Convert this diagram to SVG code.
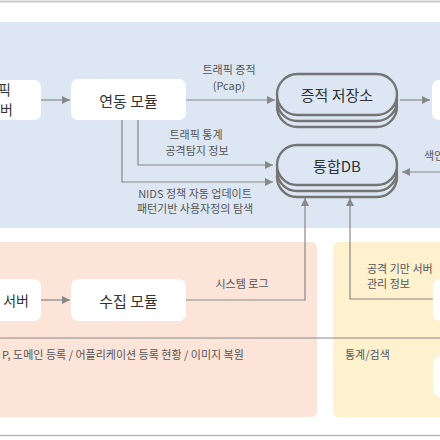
<svg xmlns="http://www.w3.org/2000/svg" width="440" height="440" viewBox="0 0 440 440">
<style>
.node{fill:#fff}
.ntxt{font-family:"Noto Sans CJK KR","Noto Sans",sans-serif;font-size:15px;fill:#333;text-anchor:middle;dominant-baseline:central}
.lbl{font-family:"Noto Sans CJK KR","Noto Sans",sans-serif;font-size:11px;fill:#555;text-anchor:middle;dominant-baseline:central}
.conn{fill:none;stroke:#888;stroke-width:1.2}
.db{fill:#dde7f3;stroke:#747474;stroke-width:2.4}
</style>
<defs>
<marker id="ah" viewBox="0 0 10 10" refX="10" refY="5" markerWidth="8" markerHeight="8" markerUnits="userSpaceOnUse" orient="auto">
<path d="M0,0 L10,5 L0,10 z" fill="#888"/>
</marker>
</defs>
<rect x="0" y="0" width="440" height="440" fill="#fff"/>
<line x1="0" y1="1.5" x2="440" y2="1.5" stroke="#ccc" stroke-width="2"/>
<line x1="0" y1="435.5" x2="440" y2="435.5" stroke="#bbb" stroke-width="1.5"/>
<g id="panels">
<rect x="-10" y="22" width="460" height="206" fill="#dde7f3"/>
<rect x="-10" y="242" width="327" height="175" rx="6" fill="#fce4d8"/>
<rect x="333" y="242" width="120" height="175" rx="6" fill="#fef1cd"/>
<line x1="0" y1="338" x2="440" y2="338" stroke="#888" stroke-width="1"/>
</g>
<g id="connectors">
<line class="conn" x1="41" y1="100" x2="70" y2="100" marker-end="url(#ah)"/>
<line class="conn" x1="186" y1="100" x2="275" y2="100" marker-end="url(#ah)"/>
<line class="conn" x1="400" y1="100" x2="430" y2="100" marker-end="url(#ah)"/>
<polyline class="conn" points="138,120 138,165 273,165" marker-end="url(#ah)"/>
<polyline class="conn" points="122,120 122,182 273,182" marker-end="url(#ah)"/>
<line class="conn" x1="440" y1="172" x2="402" y2="172" marker-end="url(#ah)"/>
<line class="conn" x1="41" y1="300" x2="70" y2="300" marker-end="url(#ah)"/>
<polyline class="conn" points="186,300 305,300 305,198" marker-end="url(#ah)"/>
<polyline class="conn" points="433,299 350,299 350,198" marker-end="url(#ah)"/>
</g>
<g id="labels">
<text class="lbl" x="229" y="69">트래픽 증적</text>
<text class="lbl" x="229" y="85">(Pcap)</text>
<text class="lbl" x="196" y="134">트래픽 통계</text>
<text class="lbl" x="197" y="150">공격탐지 정보</text>
<text class="lbl" x="195" y="193">NIDS 정책 자동 업데이트</text>
<text class="lbl" x="195" y="208">패턴기반 사용자정의 탐색</text>
<text class="lbl" x="424" y="155" style="text-anchor:start">색인</text>
<text class="lbl" x="242" y="283">시스템 로그</text>
<text class="lbl" x="367" y="268" style="text-anchor:start">공격 기만 서버</text>
<text class="lbl" x="367" y="283" style="text-anchor:start">관리 정보</text>
<text class="lbl" x="2" y="354" style="text-anchor:start">P, 도메인 등록 / 어플리케이션 등록 현황 / 이미지 복원</text>
<text class="lbl" x="345" y="354" style="text-anchor:start">통계/검색</text>
</g>
<g id="traffic-server">
<rect class="node" x="-40" y="80" width="81" height="40" rx="7"/>
<text class="ntxt" x="11" y="89" style="text-anchor:end;font-size:14px">픽</text>
<text class="ntxt" x="13" y="109" style="text-anchor:end;font-size:14px">버</text>
</g>
<g id="link-module">
<rect class="node" x="71" y="79" width="115" height="41" rx="7"/>
<text class="ntxt" x="128.5" y="100">연동 모듈</text>
</g>
<g id="evidence-store">
<rect class="db" x="277" y="86" width="120" height="41" rx="20.5"/>
<rect class="db" x="277" y="80" width="120" height="41" rx="20.5"/>
<rect class="db" x="277" y="74" width="120" height="41" rx="20.5"/>
<text class="ntxt" x="337" y="94.5">증적 저장소</text>
</g>
<g id="right-top">
<rect class="node" x="432" y="80" width="40" height="40" rx="7"/>
</g>
<g id="integrated-db">
<rect class="db" x="277" y="157" width="120" height="40" rx="20"/>
<rect class="db" x="277" y="151" width="120" height="40" rx="20"/>
<rect class="db" x="277" y="145" width="120" height="40" rx="20"/>
<text class="ntxt" x="337" y="165">통합DB</text>
</g>
<g id="server">
<rect class="node" x="-40" y="279" width="81" height="42" rx="7"/>
<text class="ntxt" x="29" y="300" style="text-anchor:end;font-size:14px">서버</text>
</g>
<g id="collect-module">
<rect class="node" x="71" y="279" width="115" height="42" rx="7"/>
<text class="ntxt" x="128.5" y="300">수집 모듈</text>
</g>
<g id="right-mid">
<rect class="node" x="433" y="279" width="40" height="42" rx="7"/>
</g>
<g id="right-bottom">
<rect class="node" x="433" y="356" width="40" height="41" rx="7"/>
</g>
</svg>
